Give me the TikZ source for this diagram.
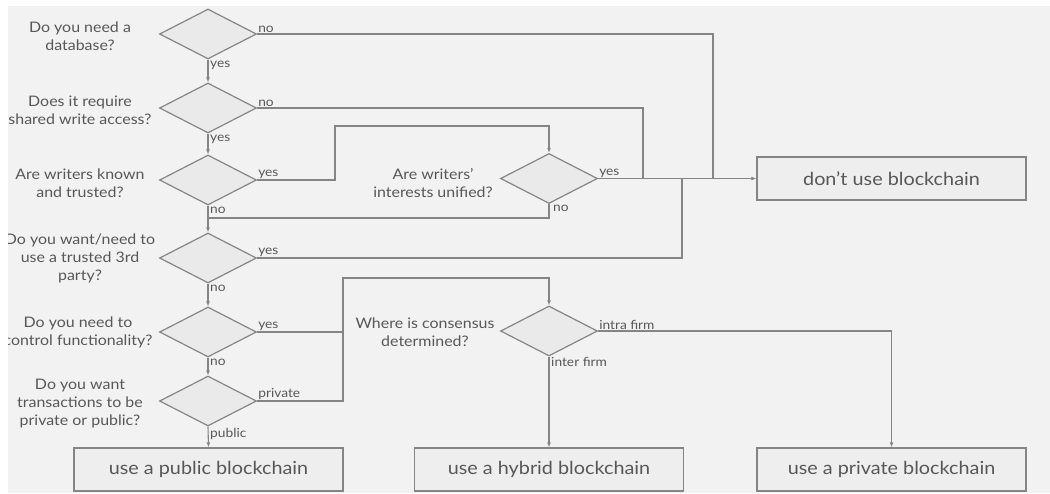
\documentclass[tikz,border=0pt]{standalone}
\usepackage{fontspec}
\setmainfont{Lato}[FakeStretch=1.1]
\usetikzlibrary{shapes.geometric,arrows.meta}
\definecolor{bg}{HTML}{F2F2F2}
\definecolor{ln}{HTML}{858585}
\definecolor{tx}{HTML}{575757}
\definecolor{dfill}{HTML}{EAEAEA}
\definecolor{bfill}{HTML}{EEEEEE}
\begin{document}
\begin{tikzpicture}[x=1pt,y=-1pt,
 dec/.style={diamond, draw=ln, fill=dfill, line width=1.2pt, minimum width=97pt, minimum height=50pt, inner sep=0pt},
 res/.style={draw=ln, fill=bfill, line width=1.2pt, minimum width=269pt, minimum height=43pt, inner sep=0pt, font=\fontsize{18}{21}\selectfont, text=tx},
 q/.style={align=center, font=\fontsize{14.5}{18}\selectfont, text=tx, inner sep=0pt},
 lab/.style={font=\fontsize{12.5}{14}\selectfont, text=tx, inner sep=1pt},
 conn/.style={draw=ln, line width=1.1pt},
 arr/.style={conn, -{Latex[length=5pt,width=4pt]}},
]
\useasboundingbox (0,0) rectangle (1050,493);
\fill[white] (0,0) rectangle (1050,493);
\begin{scope}
\clip (8,6) rectangle (1050,493);
\fill[bg] (8,6) rectangle (1050,493);

% decisions
\node[dec] (d1) at (208,34) {};
\node[dec] (d2) at (208,108) {};
\node[dec] (d3) at (208,180) {};
\node[dec] (d4) at (208,258) {};
\node[dec] (d5) at (208,332) {};
\node[dec] (d6) at (208,401) {};
\node[dec] (d7) at (549,178.5) {};
\node[dec] (d8) at (549,331) {};

% results
\node[res] (dont) at (891.5,178.5) {don’t use blockchain};
\node[res] (pub) at (208.5,469.5) {use a public blockchain};
\node[res] (hyb) at (549,469.5) {use a hybrid blockchain};
\node[res] (priv) at (891.5,469.5) {use a private blockchain};

% questions
\node[q] (q1) at (80,36) {Do you need a\\database?};
\node[q] (q2) at (80,110) {Does it require\\shared write access?};
\node[q] (q3) at (80,183) {Are writers known\\and trusted?};
\node[q] (q4) at (80,258) {Do you want/need to\\use a trusted 3rd\\party?};
\node[q] (q5) at (78,332) {Do you need to\\control functionality?};
\node[q] (q6) at (80,404) {Do you want\\transactions to be\\private or public?};
\node[q] (q7) at (433,183) {Are writers’\\interests unified?};
\node[q] (q8) at (425,332) {Where is consensus\\determined?};

% junctions
\coordinate (j1) at (713,178.5);
\coordinate (j2) at (643,178.5);
\coordinate (j4) at (682,178.5);
\coordinate (c3) at (335,126);
\coordinate (c7) at (208,218);
\coordinate (c5) at (343,278);

% vertical chain
\draw[arr] (d1.south) -- (d2.north);
\draw[arr] (d2.south) -- (d3.north);
\draw[arr] (d3.south) -- (d4.north);
\draw[arr] (d4.south) -- (d5.north);
\draw[arr] (d5.south) -- (d6.north);
\draw[arr] (d6.south) -- (pub.north);

% to don't use
\draw[conn] (d1.east) -| (j1);
\draw[conn] (d2.east) -| (j2);
\draw[conn] (d4.east) -| (j4);
\draw[arr] (d7.east) -- (d7.east -| dont.west);

% writers known yes
\draw[arr] (d3.east) -| (c3) -| (d7.north);
\draw[conn] (d7.south) |- (c7);

% control functionality / private
\draw[arr] (d5.east) -| (c5) -| (d8.north);
\draw[conn] (d6.east) -| (c5);

% consensus
\draw[arr] (d8.south) -- (hyb.north);
\draw[arr] (d8.east) -| (priv.north);

% labels
\node[lab, anchor=south west] (l1n) at (d1.east) {no};
\node[lab, anchor=north west] (l1y) at ([xshift=1pt]d1.south) {yes};
\node[lab, anchor=south west] (l2n) at (d2.east) {no};
\node[lab, anchor=north west] (l2y) at ([xshift=1pt]d2.south) {yes};
\node[lab, anchor=south west] (l3y) at (d3.east) {yes};
\node[lab, anchor=north west] (l3n) at ([xshift=1pt]d3.south) {no};
\node[lab, anchor=south west] (l4y) at (d4.east) {yes};
\node[lab, anchor=north west] (l4n) at ([xshift=1pt]d4.south) {no};
\node[lab, anchor=south west] (l5y) at (d5.east) {yes};
\node[lab, anchor=north west] (l5n) at ([xshift=1pt]d5.south) {no};
\node[lab, anchor=south west] (l6p) at (d6.east) {private};
\node[lab, anchor=north west] (l6q) at ([xshift=1pt]d6.south) {public};
\node[lab, anchor=south west] (l7y) at (d7.east) {yes};
\node[lab, anchor=north west] (l7n) at ([xshift=3pt]d7.south) {no};
\node[lab, anchor=south west] (l8a) at (d8.east) {intra firm};
\node[lab, anchor=north west] (l8b) at ([xshift=1pt]d8.south) {inter firm};
\end{scope}
\end{tikzpicture}
\end{document}
